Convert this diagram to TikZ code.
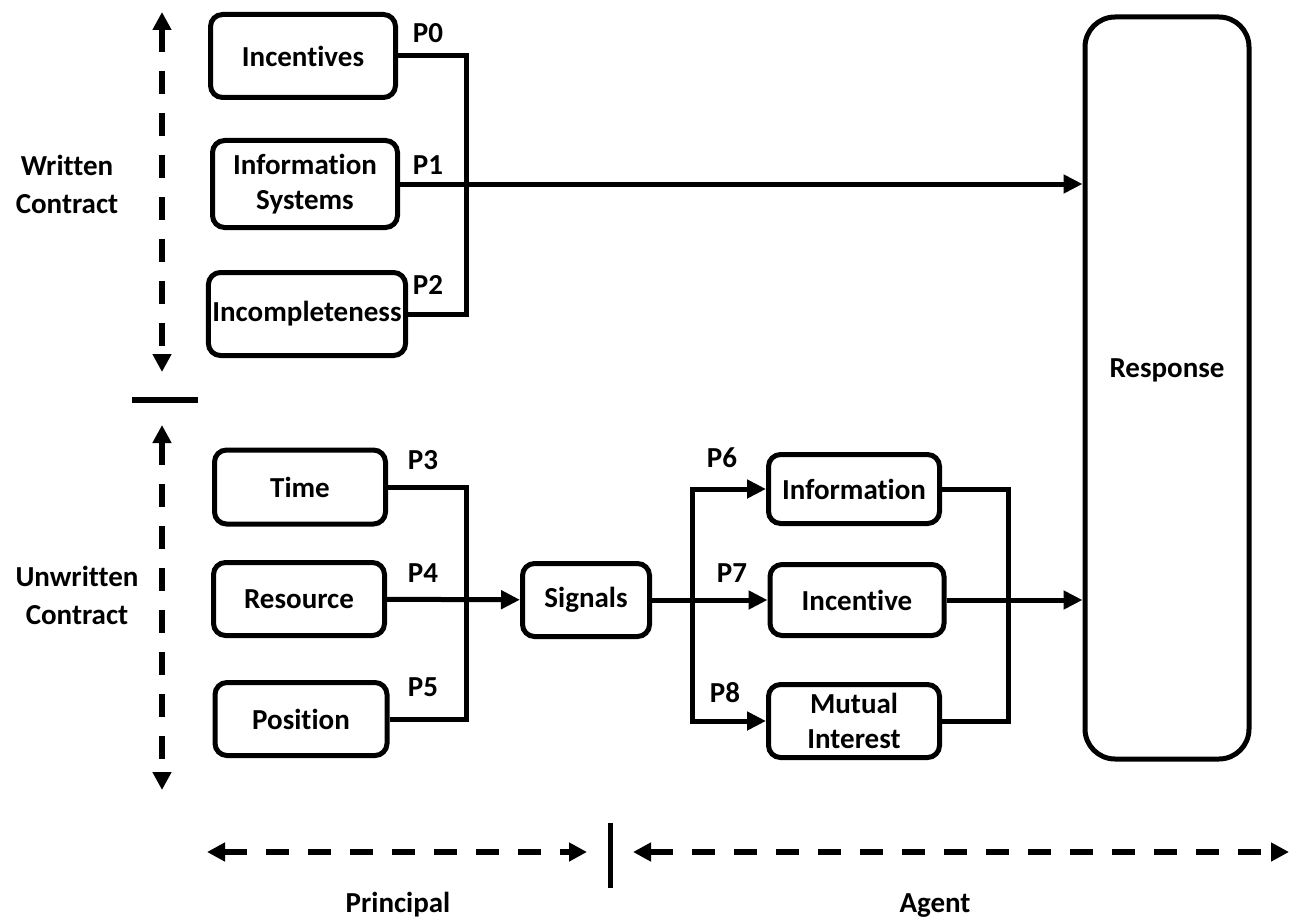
\documentclass[tikz,border=0pt]{standalone}
\usepackage{fontspec}
\setmainfont{Carlito}[Ligatures=NoCommon]
\usepackage{tikz}
\usetikzlibrary{arrows.meta}

\tikzset{
	box/.style={draw, line width=2.5pt, rounded corners=6pt, align=center, inner sep=2pt},
	conn/.style={line width=2.5pt},
	arr/.style={line width=2.5pt, -{Triangle[length=9.5pt, width=9pt]}},
	dasharr/.style={line width=3pt, dash pattern=on 11.5pt off 9.5pt, {Triangle[length=9pt, width=9pt]}-{Triangle[length=9pt, width=9pt]}},
	side/.style={align=center, font=\bfseries\fontsize{14.5}{19}\selectfont}
}

\begin{document}
\begin{tikzpicture}[x=0.5pt, y=-0.5pt, font=\bfseries\fontsize{14.5}{17.5}\selectfont]
	\useasboundingbox (0,0) rectangle (1296,920);

	\node[box, minimum width=92.5pt, minimum height=41.5pt] (inc) at (303,56) {Incentives};
	\node[box, minimum width=92.5pt, minimum height=43.5pt] (infosys) at (305,184) {Information\\Systems};
	\node[box, minimum width=92pt, minimum height=41.5pt] (incompl) at (307,314) {Incompleteness};
	\node[box, minimum width=85.5pt, minimum height=37pt] (time) at (300,487) {Time};
	\node[box, minimum width=85.5pt, minimum height=36.5pt] (resource) at (299,599) {Resource};
	\node[box, minimum width=86pt, minimum height=36.5pt] (position) at (301,719) {Position};
	\node[box, minimum width=63.5pt, minimum height=36.5pt] (signals) at (586,600) {Signals};
	\node[box, minimum width=85.5pt, minimum height=34.5pt] (information) at (854,489) {Information};
	\node[box, minimum width=87pt, minimum height=35.5pt] (incentive) at (857,600) {Incentive};
	\node[box, minimum width=85.5pt, minimum height=36.5pt] (mutual) at (854,721) {Mutual\\Interest};
	\node[box, rounded corners=15pt, minimum width=82pt, minimum height=371pt, label={[yshift=9pt]center:Response}] (response) at (1167,388) {};

	\node (p0) at (428,33) {P0};
	\node (p1) at (428,165) {P1};
	\node (p2) at (428,285) {P2};
	\node (p3) at (423,460) {P3};
	\node (p4) at (423,573) {P4};
	\node (p5) at (423,687) {P5};
	\node (p6) at (722,458) {P6};
	\node (p7) at (732,573) {P7};
	\node (p8) at (725,693) {P8};

	\coordinate (wj) at (466,184);
	\coordinate (uj) at (466,599);
	\coordinate (sj) at (692,600);
	\coordinate (rj) at (1008,600);

	\draw[conn] (inc.east) -| (wj) |- (incompl.east);
	\draw[arr] (infosys.east) -- (infosys.east -| response.west);
	\draw[conn] (time.east) -| (uj) |- (position.east);
	\draw[arr] (resource) -- (signals);
	\draw[conn] (signals.east) -- (sj);
	\draw[arr] (sj) |- (information.west);
	\draw[arr] (sj) -- (incentive.west);
	\draw[arr] (sj) |- (mutual.west);
	\draw[conn] (information.east) -| (rj) |- (mutual.east);
	\draw[arr] (incentive.east) -- (incentive.east -| response.west);

	\node[side] (written) at (67,184) {Written\\Contract};
	\node[side] (unwritten) at (77,595) {Unwritten\\Contract};
	\coordinate (wtop) at (162,12);
	\coordinate (wbot) at (162,372);
	\coordinate (utop) at (162,425);
	\coordinate (ubot) at (162,790);
	\draw[dasharr] (wtop) -- (wbot);
	\draw[dasharr] (utop) -- (ubot);
	\draw[line width=3pt] (132,400) -- (198,400);

	\coordinate (pl) at (207,852);
	\coordinate (pr) at (587,852);
	\coordinate (al) at (633,852);
	\coordinate (ar) at (1289,852);
	\draw[dasharr] (pl) -- (pr);
	\draw[dasharr] (al) -- (ar);
	\draw[line width=2.5pt] (610,823) -- (610,888);
	\node[anchor=base] (principal) at (398,912) {Principal};
	\node[anchor=base] (agent) at (935,912) {Agent};
\end{tikzpicture}
\end{document}
